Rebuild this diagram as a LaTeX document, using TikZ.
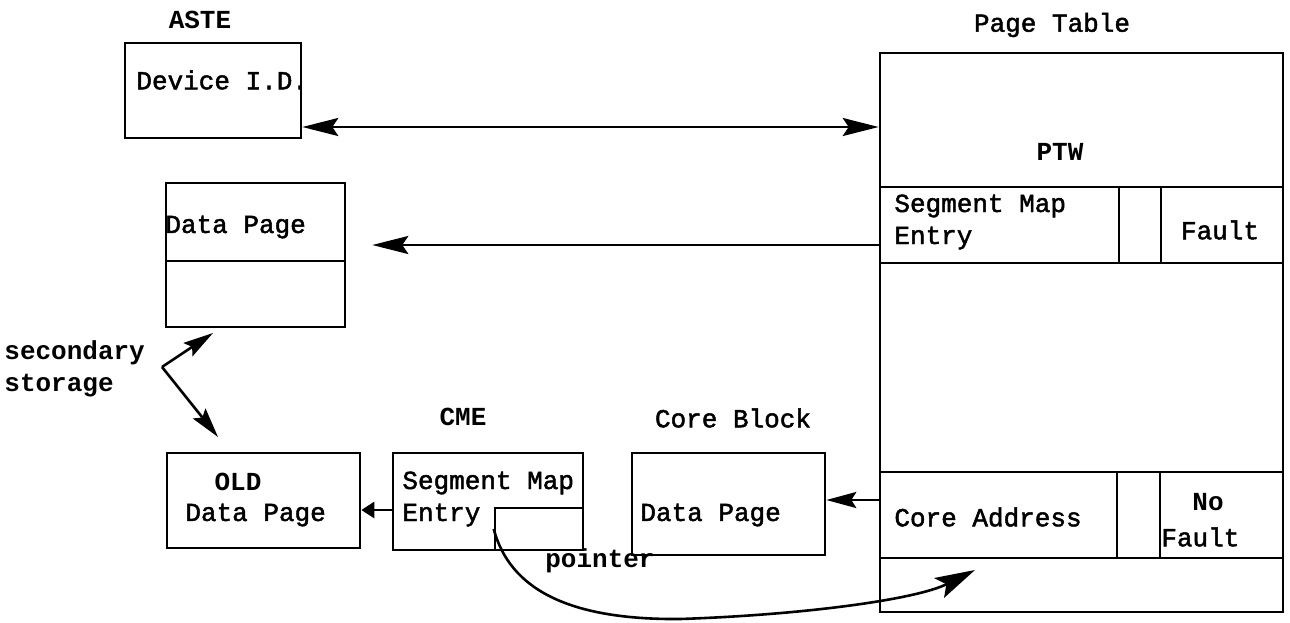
\documentclass[tikz,border=0pt]{standalone}
\usepackage{fontspec}
\setmainfont{Liberation Mono}
\newfontfamily\typefont[FakeBold=1.8]{Liberation Mono}
\usetikzlibrary{fit,arrows.meta}
\begin{document}
\begin{tikzpicture}[x=0.5pt,y=-0.5pt,
  box/.style={draw,line width=1.3pt,inner sep=0pt},
  txt/.style={font=\typefont\fontsize{13}{16}\selectfont,inner sep=0pt},
  btxt/.style={font=\fontsize{13}{16}\selectfont\bfseries,inner sep=0pt},
  conn/.style={line width=1.3pt},
  bigarr/.style={conn,-{Stealth[length=18pt,width=9pt,inset=3pt]}},
  dblarr/.style={conn,{Stealth[length=18pt,width=9pt,inset=3pt]}-{Stealth[length=18pt,width=9pt,inset=3pt]}},
  ptrarr/.style={conn,-{Stealth[length=20pt,width=11pt,inset=4pt]}},
  midarr/.style={conn,-{Stealth[length=15pt,width=8pt,inset=2.5pt]}},
  smallarr/.style={conn,-{Triangle[length=6.5pt,width=8pt]}}]
\useasboundingbox (0,0) rectangle (1290,622);

% ASTE
\node[btxt] (astelbl) at (200,20) {ASTE};
\node[box,fit={(125,43)(301,138)}] (aste) {};
\node[txt,anchor=west] (devid) at (136,80) {Device I.D.};

% Page table
\node[txt] (ptlbl) at (1052,25) {Page Table};
\node[box,fit={(880,53)(1283,187)}] (ptw) {};
\node[btxt] (ptwtxt) at (1060,152) {PTW};
\node[box,fit={(880,187)(1119,263)}] (sme) {};
\node[box,fit={(1119,187)(1161,263)}] (gapa) {};
\node[box,fit={(1161,187)(1283,263)}] (fault) {};
\node[txt,anchor=west,align=left] (smetxt) at (894,222) {Segment Map\\Entry};
\node[txt] (faulttxt) at (1220,230) {Fault};
\node[box,fit={(880,263)(1283,472)}] (mid) {};
\node[box,fit={(880,472)(1117,558)}] (core) {};
\node[box,fit={(1117,472)(1160,558)}] (gapb) {};
\node[box,fit={(1160,472)(1283,558)}] (nofault) {};
\node[txt,anchor=west] (coretxt) at (894,517) {Core Address};
\node[btxt] (notxt) at (1208,502) {No};
\node[txt,anchor=west] (nfaulttxt) at (1161,537) {Fault};
\node[box,fit={(880,558)(1283,612)}] (bot) {};

% Data page (secondary storage)
\node[box,fit={(166,183)(345,261)}] (dp) {};
\node[box,fit={(166,261)(345,327)}] (dpb) {};
\node[txt,anchor=west] (dptxt) at (165,227) {Data Page};

% secondary storage
\node[btxt,anchor=west,align=left] (sec) at (4,369) {secondary\\storage};
\coordinate (sv) at (162,367);
\coordinate (s1) at (213,333);
\coordinate (s2) at (218,437);

% OLD data page
\node[box,fit={(167,453)(360,548)}] (old) {};
\node[btxt] (oldtxt) at (238,482) {OLD};
\node[txt,anchor=west] (olddp) at (185,515) {Data Page};

% CME
\node[btxt] (cmelbl) at (463,417) {CME};
\node[box,fit={(393,453)(583,550)}] (cme) {};
\node[txt,anchor=west,align=left] (cmetxt) at (402,499) {Segment Map\\Entry};
\node[box,fit={(495,508)(583,550)}] (ptr) {};
\node[btxt] (ptrtxt) at (600,561) {pointer};

% Core block
\node[txt] (cblbl) at (733,418) {Core Block};
\node[box,fit={(632,453)(825,555)}] (cb) {};
\node[txt,anchor=west] (cbtxt) at (640,515) {Data Page};

\coordinate (ptip) at (975,570);

% connectors
\draw[dblarr] (aste.east |- 0,127) -- (ptw.west |- 0,127);
\draw[bigarr,shorten >=13pt] (sme.west |- 0,245) -- (dp.east |- 0,245);
\draw[midarr] (core.west |- 0,500) -- (cb.east |- 0,500);
\draw[smallarr] (cme.west |- 0,510) -- (old.east |- 0,510);
\draw[midarr] (sv) -- (s1);
\draw[midarr] (sv) -- (s2);
\draw[ptrarr] (ptr.west) .. controls (510,590) and (570,620) .. (680,619)
  .. controls (800,615) and (915,600) .. (ptip);
\end{tikzpicture}
\end{document}
